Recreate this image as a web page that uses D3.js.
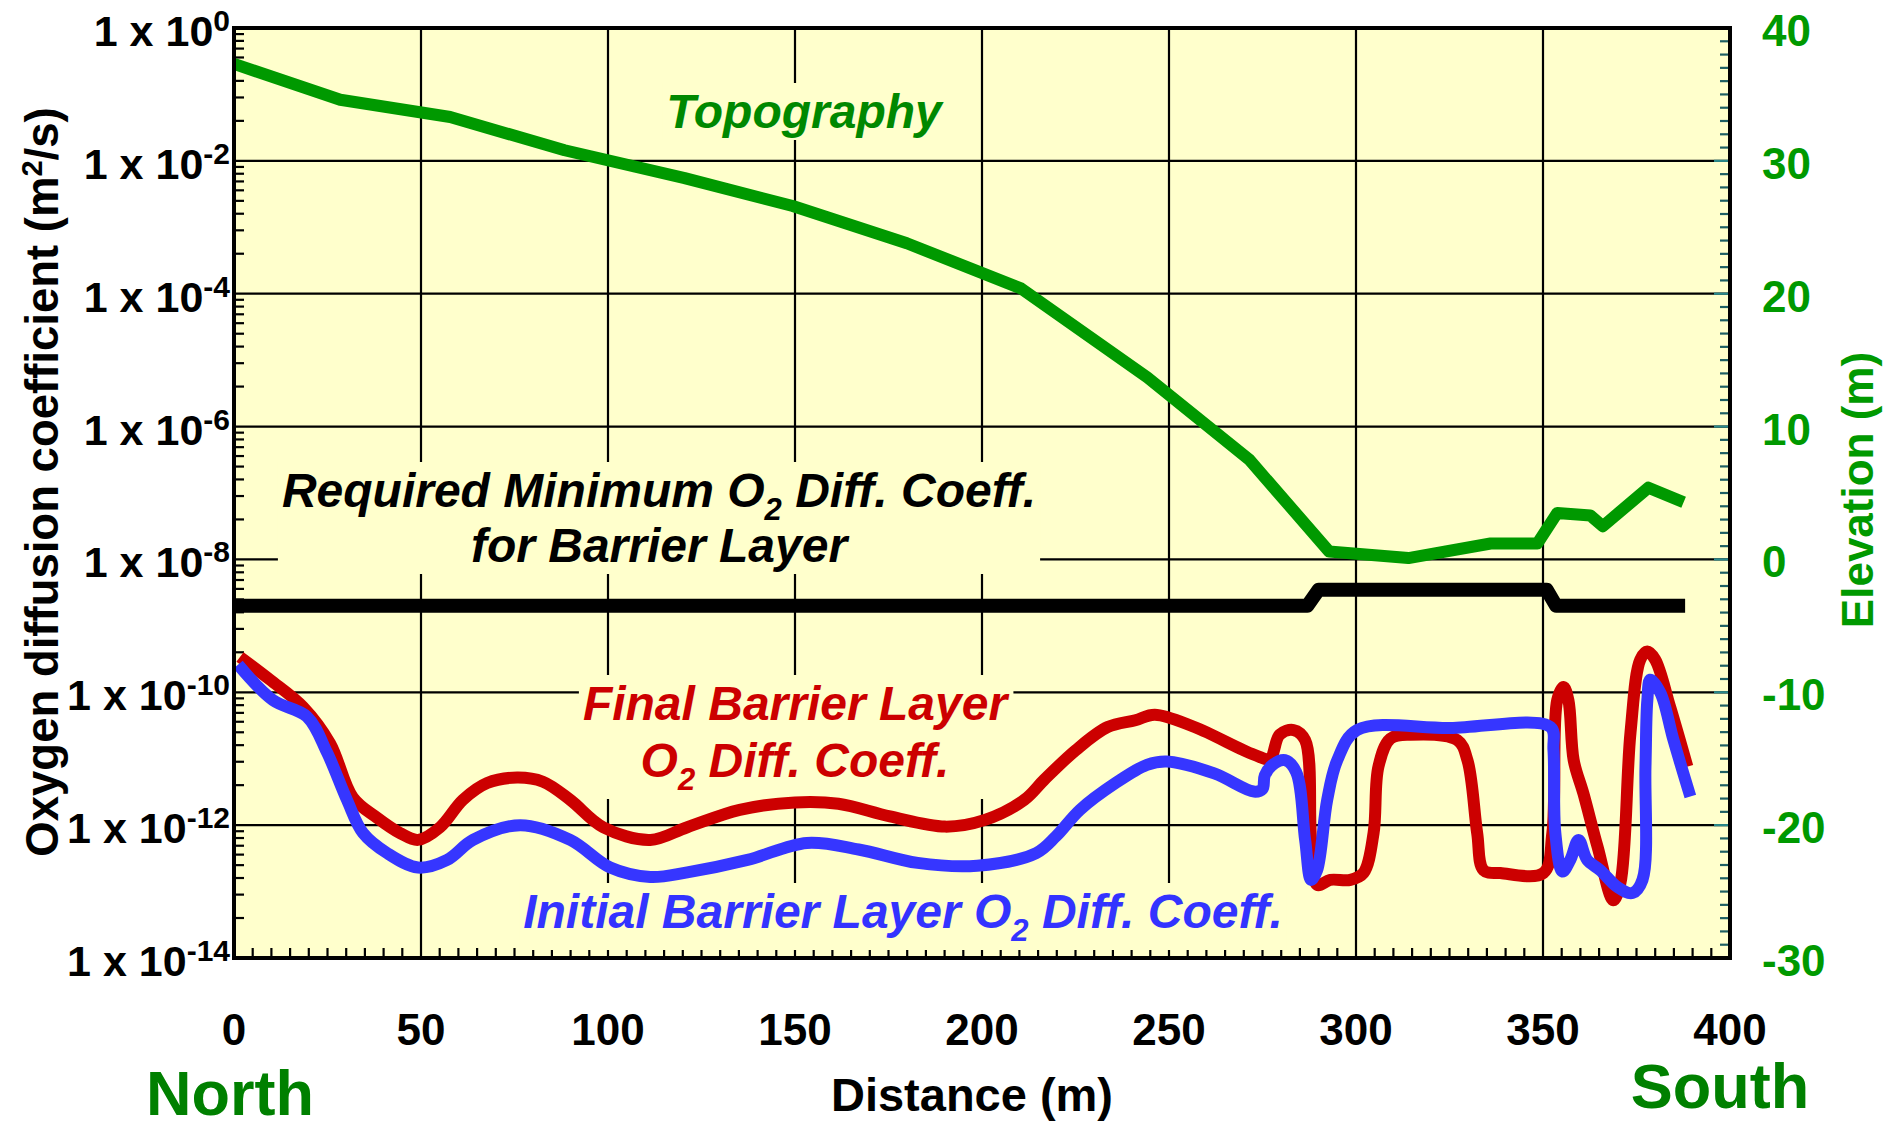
<!DOCTYPE html>
<html>
<head>
<meta charset="utf-8">
<script src="https://cdn.jsdelivr.net/npm/d3@7"></script>
<style>
  body { margin: 0; background: #fff; }
  text { font-family: "Liberation Sans", Arial, sans-serif; font-weight: bold; }
</style>
</head>
<body>
<div id="chart"></div>
<script>
// axis ticks
const distTicks = [0, 50, 100, 150, 200, 250, 300, 350, 400];
const coefExps = [0, -2, -4, -6, -8, -10, -12, -14];
const elevTicks = [40, 30, 20, 10, 0, -10, -20, -30];

// topography (elevation, m)
const topoDist = [0, 28.4, 57.8, 88.4, 120.5, 149.4, 179.9, 210.4, 244.2, 271.5, 292.8, 314, 336, 348.5, 353.8, 362.7, 366, 378.2, 387.6];
const topoElev = [37.3, 34.6, 33.3, 30.8, 28.7, 26.6, 23.8, 20.4, 13.7, 7.5, 0.6, 0.1, 1.2, 1.2, 3.5, 3.3, 2.5, 5.4, 4.3];

// required minimum O2 diffusion coefficient
const reqDist = [0, 287, 290, 351, 353.5, 388];
const reqCoef = [2e-9, 2e-9, 3.5e-9, 3.5e-9, 2e-9, 2e-9];

// final barrier layer
const finalDist = [1.6, 9.6, 18.5, 25.7, 31.8, 38.2, 44.4, 49.2, 55.1, 61.2, 67.7, 75.7, 82.6, 89.9, 98.7, 111.3, 121.2,
  135.2, 150, 161.6, 175.4, 190.2, 200.8, 211.3, 216.6, 225.1, 233.6, 241, 246.2, 256.8, 272.7, 276.9, 279.6, 283.3,
  286.4, 288, 289.6, 293.1, 298.5, 302, 304.7, 306, 309.2, 314.5, 327.1, 329.8, 332.4, 334.1, 338.6, 350.1, 352.5,
  353.8, 355.5, 356.8, 358.2, 360.8, 364.6, 368.8, 370.7, 373.4, 376, 377.9, 380, 384, 388.6];
const finalCoef = [3.4e-10, 1.55e-10, 6.0e-11, 1.7e-11, 2.6e-12, 1.3e-12, 7.6e-13, 6.0e-13, 9.3e-13, 2.4e-12, 4.3e-12,
  5.2e-12, 4.5e-12, 2.4e-12, 9.3e-13, 6.0e-13, 9.3e-13, 1.7e-12, 2.2e-12, 2.1e-12, 1.35e-12, 9.5e-13, 1.2e-12, 2.4e-12,
  4.8e-12, 1.35e-11, 3.0e-11, 3.8e-11, 4.6e-11, 3.0e-11, 1.15e-11, 1.0e-11, 2.3e-11, 2.7e-11, 1.9e-11, 6.0e-13, 1.26e-13,
  1.5e-13, 1.5e-13, 1.9e-13, 7.6e-13, 7.6e-12, 2.0e-11, 2.3e-11, 1.9e-11, 9.5e-12, 7.6e-13, 2.1e-13, 1.9e-13, 1.9e-13,
  7.6e-13, 7.6e-11, 1.2e-10, 7.6e-11, 9.5e-12, 3.0e-12, 4.7e-13, 7.4e-14, 1.35e-13, 2.5e-11, 3.1e-10, 4.1e-10, 3.1e-10,
  6.0e-11, 7.6e-12];

// initial barrier layer
const initDist = [1.1, 10.4, 19.5, 24.9, 30.2, 34.5, 40.9, 49.2, 57, 63.9, 76.5, 89.9, 100.6, 111.3, 121.2, 137.3, 153.2,
  167, 182.8, 198.7, 214.5, 219.8, 226.2, 235.7, 244.1, 249.4, 262.1, 272.7, 275, 275.6, 277.5, 281, 284, 286.4, 288,
  289.6, 292.3, 295, 300.3, 325.2, 352, 352.8, 353.3, 355.2, 357.3, 359.5, 361.8, 365.3, 369.9, 373.9, 376.6, 377.4,
  377.9, 378.7, 381.4, 384.9, 389.4];
const initCoef = [2.6e-10, 7.6e-11, 4.3e-11, 1.23e-11, 2.4e-12, 7.6e-13, 3.8e-13, 2.3e-13, 3.0e-13, 6.0e-13, 1.0e-12,
  6.0e-13, 2.3e-13, 1.66e-13, 1.95e-13, 3.0e-13, 5.4e-13, 4.3e-13, 2.7e-13, 2.45e-13, 3.8e-13, 6.8e-13, 1.7e-12, 4.3e-12,
  8.1e-12, 9.1e-12, 6.0e-12, 3.2e-12, 3.5e-12, 5.6e-12, 7.9e-12, 9.5e-12, 6.3e-12, 6.0e-13, 1.5e-13, 2.1e-13, 2.4e-12,
  9.5e-12, 2.7e-11, 2.9e-11, 3.0e-11, 1.35e-11, 7.6e-13, 2.0e-13, 3.0e-13, 6.0e-13, 3.0e-13, 2.1e-13, 1.17e-13, 9.5e-14,
  1.5e-13, 7.6e-12, 7.6e-11, 1.55e-10, 9.8e-11, 1.9e-11, 2.7e-12];

const W = 1883, H = 1124;
const plotL = 234, plotR = 1730, plotT = 28, plotB = 958;

const svg = d3.select('#chart').append('svg')
  .attr('width', W).attr('height', H);

const x = d3.scaleLinear().domain([0, 400]).range([plotL, plotR]);
const y = d3.scaleLog().domain([1e-14, 1]).range([plotB, plotT]);
const yElev = d3.scaleLinear().domain([-30, 40]).range([plotB, plotT]);

// plot background
svg.append('rect')
  .attr('x', plotL).attr('y', plotT)
  .attr('width', plotR - plotL).attr('height', plotB - plotT)
  .attr('fill', '#ffffcc');

// grid
const grid = svg.append('g').attr('stroke', '#000').attr('stroke-width', 2.2);
distTicks.slice(1, -1).forEach(d => {
  grid.append('line').attr('x1', x(d)).attr('x2', x(d)).attr('y1', plotT).attr('y2', plotB);
});
coefExps.slice(1, -1).forEach(e => {
  grid.append('line').attr('x1', plotL).attr('x2', plotR).attr('y1', y(Math.pow(10, e))).attr('y2', y(Math.pow(10, e)));
});

// minor ticks
const ticks = svg.append('g').attr('stroke-width', 2.2);
// left: each two-decade band is ticked like a single decade
for (let i = 0; i < 7; i++) {
  const base = Math.pow(10, -2 * i - 2);
  for (let k = 2; k <= 9; k++) {
    const yy = y(base * k * k);
    ticks.append('line').attr('stroke', '#000')
      .attr('x1', plotL).attr('x2', plotL + 10).attr('y1', yy).attr('y2', yy);
  }
}
// bottom
for (let d = 5; d < 400; d += 5) {
  if (d % 50 === 0) continue;
  ticks.append('line').attr('stroke', '#000')
    .attr('x1', x(d)).attr('x2', x(d)).attr('y1', plotB).attr('y2', plotB - 10);
}
// right (elevation)
for (let e = -30; e <= 40; e += 1) {
  const major = e % 10 === 0;
  ticks.append('line').attr('stroke', major ? '#2a8a8c' : '#1d5f63')
    .attr('x1', plotR).attr('x2', plotR - (major ? 16 : 10))
    .attr('y1', yElev(e)).attr('y2', yElev(e));
}

// annotations with background boxes
const notes = svg.append('g');
function note(lines, cx, color) {
  const g = notes.append('g');
  const rect = g.append('rect').attr('fill', '#ffffcc');
  lines.forEach(ln => {
    const t = g.append('text')
      .attr('x', cx).attr('y', ln.y)
      .attr('text-anchor', 'middle')
      .attr('font-style', 'italic')
      .attr('font-size', 48)
      .attr('fill', color);
    ln.parts.forEach(p => {
      if (p.sub) {
        t.append('tspan').attr('font-size', 31).attr('dy', 13).text(p.sub);
        t.append('tspan').attr('dy', -13).text(p.text);
      } else {
        t.append('tspan').text(p.text);
      }
    });
  });
  const bb = g.node().getBBox();
  rect.attr('x', bb.x - 4).attr('y', bb.y - 2).attr('width', bb.width + 8).attr('height', bb.height + 4);
}

note([{ y: 128, parts: [{ text: 'Topography' }] }], 804, '#008800');
note([
  { y: 507, parts: [{ text: 'Required Minimum O' }, { sub: '2', text: ' Diff. Coeff.' }] },
  { y: 562, parts: [{ text: 'for Barrier Layer' }] }
], 659, '#000');
note([
  { y: 720, parts: [{ text: 'Final Barrier Layer' }] },
  { y: 777, parts: [{ text: 'O' }, { sub: '2', text: ' Diff. Coeff.' }] }
], 795, '#cc0000');
note([
  { y: 928, parts: [{ text: 'Initial Barrier Layer O' }, { sub: '2', text: ' Diff. Coeff.' }] }
], 903, '#3333ff');

// series
const lineLin = d3.line().x(d => x(d[0])).y(d => y(d[1]));
const lineSmooth = d3.line().x(d => x(d[0])).y(d => y(d[1])).curve(d3.curveCatmullRom.alpha(0.5));
const lineTopo = d3.line().x(d => x(d[0])).y(d => yElev(d[1]));

const series = svg.append('g').attr('fill', 'none').attr('stroke-linejoin', 'round');

series.append('path')
  .attr('d', lineTopo(d3.zip(topoDist, topoElev)))
  .attr('stroke', '#009900').attr('stroke-width', 12);

series.append('path')
  .attr('d', lineLin(d3.zip(reqDist, reqCoef)))
  .attr('stroke', '#000').attr('stroke-width', 14);

series.append('path')
  .attr('d', lineSmooth(d3.zip(finalDist, finalCoef)))
  .attr('stroke', '#cc0000').attr('stroke-width', 12);

series.append('path')
  .attr('d', lineSmooth(d3.zip(initDist, initCoef)))
  .attr('stroke', '#3636ff').attr('stroke-width', 12);

// frame
svg.append('rect')
  .attr('x', plotL).attr('y', plotT)
  .attr('width', plotR - plotL).attr('height', plotB - plotT)
  .attr('fill', 'none').attr('stroke', '#000').attr('stroke-width', 4);

// left tick labels
coefExps.forEach(e => {
  const t = svg.append('text')
    .attr('x', 230).attr('y', y(Math.pow(10, e)) + 18)
    .attr('text-anchor', 'end').attr('font-size', 43).attr('fill', '#000');
  t.append('tspan').text('1 x 10');
  t.append('tspan').attr('font-size', 30).attr('dy', -15).text(String(e));
});

// bottom tick labels
distTicks.forEach(d => {
  svg.append('text')
    .attr('x', x(d)).attr('y', 1045)
    .attr('text-anchor', 'middle').attr('font-size', 44).attr('fill', '#000')
    .text(d);
});

// right tick labels
elevTicks.forEach(e => {
  svg.append('text')
    .attr('x', 1762).attr('y', yElev(e) + 18)
    .attr('text-anchor', 'start').attr('font-size', 44).attr('fill', '#009900')
    .text(e);
});

// axis titles
svg.append('text')
  .attr('transform', 'translate(58,482) rotate(-90)')
  .attr('text-anchor', 'middle').attr('font-size', 45.5).attr('fill', '#000')
  .call(t => {
    t.append('tspan').text('Oxygen diffusion coefficient (m');
    t.append('tspan').attr('font-size', 29).attr('dy', -16).text('2');
    t.append('tspan').attr('dy', 16).text('/s)');
  });

svg.append('text')
  .attr('transform', 'translate(1873,490) rotate(-90)')
  .attr('text-anchor', 'middle').attr('font-size', 44).attr('fill', '#009900')
  .text('Elevation (m)');

svg.append('text')
  .attr('x', 972).attr('y', 1111)
  .attr('text-anchor', 'middle').attr('font-size', 47).attr('fill', '#000')
  .text('Distance (m)');

svg.append('text')
  .attr('x', 230).attr('y', 1115)
  .attr('text-anchor', 'middle').attr('font-size', 63).attr('fill', '#008000')
  .text('North');

svg.append('text')
  .attr('x', 1720).attr('y', 1108)
  .attr('text-anchor', 'middle').attr('font-size', 63).attr('fill', '#008000')
  .text('South');
</script>
</body>
</html>
